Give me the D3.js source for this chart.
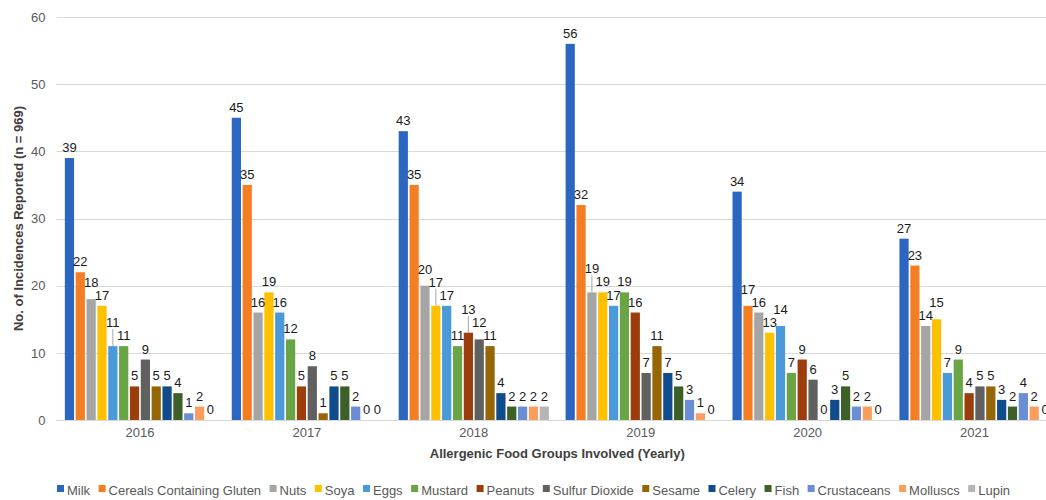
<!DOCTYPE html>
<html>
<head>
<meta charset="utf-8">
<script src="https://cdn.jsdelivr.net/npm/d3@7"></script>
<style>
  html, body { margin: 0; padding: 0; background: #fff; }
  svg { display: block; font-family: "Liberation Sans", Arial, sans-serif; }
</style>
</head>
<body>
<svg id="chart" width="1046" height="500"></svg>
<script>
// Reported allergen incidences per year, by allergenic food group
const years = ["2016", "2017", "2018", "2019", "2020", "2021"];
const groups = ["Milk", "Cereals Containing Gluten", "Nuts", "Soya", "Eggs", "Mustard",
  "Peanuts", "Sulfur Dioxide", "Sesame", "Celery", "Fish", "Crustaceans", "Molluscs", "Lupin"];

const milk          = [39, 45, 43, 56, 34, 27];
const cereals       = [22, 35, 35, 32, 17, 23];
const nuts          = [18, 16, 20, 19, 16, 14];
const soya          = [17, 19, 17, 19, 13, 15];
const eggs          = [11, 16, 17, 17, 14, 7];
const mustard       = [11, 12, 11, 19, 7, 9];
const peanuts       = [5, 5, 13, 16, 9, 4];
const sulfurDioxide = [9, 8, 12, 7, 6, 5];
const sesame        = [5, 1, 11, 11, 0, 5];
const celery        = [5, 5, 4, 7, 3, 3];
const fish          = [4, 5, 2, 5, 5, 2];
const crustaceans   = [1, 2, 2, 3, 2, 4];
const molluscs      = [2, 0, 2, 1, 2, 2];
const lupin         = [0, 0, 2, 0, 0, 0];

const yTicks = [0, 10, 20, 30, 40, 50, 60];

const seriesValues = [milk, cereals, nuts, soya, eggs, mustard, peanuts,
  sulfurDioxide, sesame, celery, fish, crustaceans, molluscs, lupin];

const colors = ["#2b67c1", "#f47e24", "#a5a5a5", "#ffc000", "#4a99d9", "#6aa545",
  "#9c3e0b", "#606060", "#966506", "#104c8b", "#3d5f28", "#6a8ed3", "#f99e5e", "#b5b5b5"];

const svg = d3.select("#chart");
const W = 1046;
const plot = { left: 56.5, right: 1058, top: 17, bottom: 420 };

const x0 = d3.scaleBand().domain(years).range([plot.left, plot.right])
  .paddingInner(0.1).paddingOuter(0.05);
const x1 = d3.scaleBand().domain(groups).range([0, x0.bandwidth()])
  .paddingInner(0.15).paddingOuter(0);
const y = d3.scaleLinear().domain([0, 60]).range([plot.bottom, plot.top]);
const color = d3.scaleOrdinal().domain(groups).range(colors);

// Horizontal gridlines
svg.append("g").selectAll("line").data(yTicks).join("line")
  .attr("x1", plot.left).attr("x2", W)
  .attr("y1", d => Math.round(y(d)) + 0.5).attr("y2", d => Math.round(y(d)) + 0.5)
  .attr("stroke", "#d9d9d9").attr("stroke-width", 1);

// Y axis tick labels
const yAxis = svg.append("g")
  .attr("transform", `translate(${plot.left - 11},0)`)
  .call(d3.axisLeft(y).tickValues(yTicks).tickSize(0).tickPadding(0));
yAxis.select(".domain").remove();
yAxis.selectAll("text")
  .attr("font-size", 13).attr("fill", "#595959")
  .attr("font-family", "Liberation Sans, Arial, sans-serif");

// X axis year labels
const xAxis = svg.append("g")
  .attr("transform", `translate(0,${plot.bottom + 8})`)
  .call(d3.axisBottom(x0).tickSize(0).tickPadding(0));
xAxis.select(".domain").remove();
xAxis.selectAll("text")
  .attr("font-size", 13).attr("fill", "#595959")
  .attr("font-family", "Liberation Sans, Arial, sans-serif");

// Axis titles
svg.append("text")
  .attr("x", (plot.left + plot.right) / 2).attr("y", 458)
  .attr("text-anchor", "middle").attr("font-size", 13).attr("font-weight", "bold")
  .attr("fill", "#404040")
  .text("Allergenic Food Groups Involved (Yearly)");

svg.append("text")
  .attr("transform", `translate(23,${(plot.top + plot.bottom) / 2}) rotate(-90)`)
  .attr("text-anchor", "middle").attr("font-size", 13).attr("font-weight", "bold")
  .attr("fill", "#404040")
  .text("No. of Incidences Reported (n = 969)");

// Bars
const rows = years.map((yr, yi) => ({
  year: yr,
  items: groups.map((g, gi) => ({ year: yr, group: g, gi, value: seriesValues[gi][yi] }))
}));

const yearG = svg.append("g").selectAll("g").data(rows).join("g")
  .attr("transform", d => `translate(${x0(d.year)},0)`);

yearG.selectAll("rect").data(d => d.items).join("rect")
  .attr("x", d => x1(d.group))
  .attr("width", x1.bandwidth())
  .attr("y", d => y(d.value))
  .attr("height", d => y(0) - y(d.value))
  .attr("fill", d => color(d.group));

// Baseline
svg.append("line")
  .attr("x1", plot.left).attr("x2", W)
  .attr("y1", Math.round(y(0)) + 0.5).attr("y2", Math.round(y(0)) + 0.5)
  .attr("stroke", "#d9d9d9");

// Value labels: shorter bars are labelled first (rightmost first on ties);
// a label that would collide with one already placed is lifted above it,
// and gets a thin leader line back to its bar when lifted far.
const labelLayer = svg.append("g");
const leaderLayer = svg.insert("g", () => labelLayer.node());
const digitH = 9, lift = 6, shrink = 0.5;

rows.forEach(row => {
  const placed = [];
  const order = row.items.slice().sort((a, b) => a.value - b.value || b.gi - a.gi);
  order.forEach(d => {
    const cx = x0(row.year) + x1(d.group) + x1.bandwidth() / 2;
    const top = y(d.value);
    const t = labelLayer.append("text")
      .attr("x", cx).attr("y", top - lift).attr("text-anchor", "middle")
      .attr("font-size", 13).attr("fill", "#1a1a1a")
      .text(d.value);
    const w = t.node().getBBox().width;
    const bx1 = cx - w / 2 + shrink, bx2 = cx + w / 2 - shrink;
    let base = top - lift;
    let moved = true;
    while (moved) {
      moved = false;
      for (const p of placed) {
        const hx = Math.min(bx2, p.x2) - Math.max(bx1, p.x1);
        const vy = Math.min(base, p.base) - Math.max(base - digitH, p.base - digitH);
        if (hx > 0 && vy > 0) {
          base = p.base - digitH - 4;
          moved = true;
        }
      }
    }
    t.attr("y", base);
    placed.push({ x1: bx1, x2: bx2, base });
    if (top - base >= lift + 8) {
      leaderLayer.append("line")
        .attr("x1", cx).attr("x2", cx)
        .attr("y1", base + 2).attr("y2", top)
        .attr("stroke", "#a6a6a6").attr("stroke-width", 1);
    }
  });
});

// Legend
const legend = svg.append("g").attr("transform", "translate(0,490)");
const items = legend.selectAll("g").data(groups).join("g");
items.append("rect").attr("width", 7).attr("height", 7).attr("y", -5)
  .attr("fill", d => color(d));
items.append("text").attr("x", 10).attr("y", 0).attr("dy", "0.35em")
  .attr("font-size", 13).attr("fill", "#595959").text(d => d);
const widths = [];
items.each(function () { widths.push(10 + d3.select(this).select("text").node().getComputedTextLength()); });
const legendLeft = 57, legendRight = 1010;
const gap = (legendRight - legendLeft - d3.sum(widths)) / (groups.length - 1);
let lx = legendLeft;
items.attr("transform", (d, i) => {
  const t = `translate(${lx},0)`;
  lx += widths[i] + gap;
  return t;
});
</script>
</body>
</html>
